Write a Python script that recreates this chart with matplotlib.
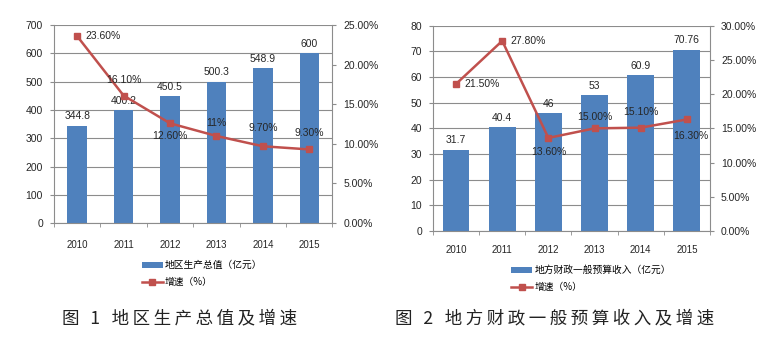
import matplotlib
matplotlib.use("Agg")
import matplotlib.pyplot as plt
from matplotlib.lines import Line2D
from matplotlib.patches import Patch
from matplotlib.ticker import FuncFormatter, MultipleLocator

plt.rcParams['font.family'] = ['Liberation Sans', 'Noto Sans CJK SC', 'DejaVu Sans']

years = ['2010', '2011', '2012', '2013', '2014', '2015']

# chart 1: regional GDP
gdp = [344.8, 400.2, 450.5, 500.3, 548.9, 600]
gdp_labels = ['344.8', '400.2', '450.5', '500.3', '548.9', '600']
gdp_growth = [23.6, 16.1, 12.6, 11.0, 9.7, 9.3]
gdp_growth_labels = ['23.60%', '16.10%', '12.60%', '11%', '9.70%', '9.30%']

# chart 2: local general budget revenue
rev = [31.7, 40.4, 46, 53, 60.9, 70.76]
rev_labels = ['31.7', '40.4', '46', '53', '60.9', '70.76']
rev_growth = [21.5, 27.8, 13.6, 15.0, 15.1, 16.3]
rev_growth_labels = ['21.50%', '27.80%', '13.60%', '15.00%', '15.10%', '16.30%']

BLUE = '#4f81bd'
RED = '#c0504d'
GRID = '#8c8c8c'
TXT = '#262626'
CJK = ['Noto Sans CJK SC', 'DejaVu Sans']

# label offsets (points) for the growth line labels
gdp_off = [(6, 0, 'left', 'center'), (0, 11, 'center', 'center'), (0, -9, 'center', 'center'),
           (0, 9, 'center', 'center'), (0, 13, 'center', 'center'), (0, 12, 'center', 'center')]
rev_off = [(6, 0, 'left', 'center'), (6, 0, 'left', 'center'), (0, -10, 'center', 'center'),
           (0, 8, 'center', 'center'), (0, 11, 'center', 'center'), (3, -12, 'center', 'center')]


def pct(v, pos):
    return '%.2f%%' % v


def draw(ax, vals, vlabels, growth, glabels, offs, ymax, ystep, pmax, bar_w, xpad):
    x = list(range(len(years)))
    ax.bar(x, vals, width=bar_w, color=BLUE, zorder=2)
    ax.set_xlim(-0.5, len(years) - 0.5)
    ax.set_ylim(0, ymax)
    ax.yaxis.set_major_locator(MultipleLocator(ystep))
    ax.grid(axis='y', color=GRID, lw=0.8, zorder=0)
    ax.set_axisbelow(True)
    ax.set_xticks(x)
    ax.set_xticklabels(years)
    ax.set_xticks([i + 0.5 for i in range(-1, len(years))], minor=True)
    ax.tick_params(axis='x', which='major', length=0, pad=xpad, labelsize=7, colors=TXT)
    ax.tick_params(axis='x', which='minor', length=3, color=GRID)
    ax.tick_params(axis='y', length=3, color=GRID, labelsize=7.5, labelcolor=TXT, pad=5)
    for s in ['top', 'right']:
        ax.spines[s].set_visible(False)
    for s in ['left', 'bottom']:
        ax.spines[s].set_color(GRID)
    for xi, v, t in zip(x, vals, vlabels):
        ax.annotate(t, (xi, v), xytext=(0, 3), textcoords='offset points',
                    ha='center', va='bottom', fontsize=7.5, color=TXT, zorder=5)

    ax2 = ax.twinx()
    ax2.plot(x, growth, color=RED, lw=1.8, marker='s', ms=5, zorder=3)
    ax2.set_ylim(0, pmax)
    ax2.yaxis.set_major_locator(MultipleLocator(5))
    ax2.yaxis.set_major_formatter(FuncFormatter(pct))
    ax2.tick_params(axis='y', length=3, color=GRID, labelsize=7.5, labelcolor=TXT, pad=5)
    for s in ['top', 'left', 'bottom']:
        ax2.spines[s].set_visible(False)
    ax2.spines['right'].set_color(GRID)
    for xi, g, t, (dx, dy, ha, va) in zip(x, growth, glabels, offs):
        ax2.annotate(t, (xi, g), xytext=(dx, dy), textcoords='offset points',
                     ha=ha, va=va, fontsize=7.5, color=TXT, zorder=6)
    return ax2


fig = plt.figure(figsize=(7.65, 3.4), dpi=100)
fig.patch.set_facecolor('white')

ax1 = fig.add_axes([0.0706, 0.344, 0.364, 0.582])
draw(ax1, gdp, gdp_labels, gdp_growth, gdp_growth_labels, gdp_off, 700, 100, 25, 0.42, 12)

ax3 = fig.add_axes([0.566, 0.321, 0.362, 0.603])
draw(ax3, rev, rev_labels, rev_growth, rev_growth_labels, rev_off, 80, 10, 30, 0.58, 10)

bar_h = Patch(facecolor=BLUE)
line_h = Line2D([], [], color=RED, lw=1.8, marker='s', ms=5)

fig.legend([bar_h, line_h], ['地区生产总值（亿元）', '增速（%）'],
           loc='upper left', bbox_to_anchor=(0.185, 0.235), frameon=False,
           prop={'family': CJK, 'size': 7}, handlelength=2.2, handleheight=0.6,
           handletextpad=0.2, labelspacing=0.7, borderpad=0, borderaxespad=0)
fig.legend([bar_h, line_h], ['地方财政一般预算收入（亿元）', '增速（%）'],
           loc='upper left', bbox_to_anchor=(0.668, 0.22), frameon=False,
           prop={'family': CJK, 'size': 7}, handlelength=2.2, handleheight=0.6,
           handletextpad=0.2, labelspacing=0.7, borderpad=0, borderaxespad=0)


def spaced(s):
    return '\u2009'.join(s)


fig.text(0.081, 0.065, spaced('图 1') + '   ' + spaced('地区生产总值及增速'),
         family=CJK, fontsize=12.6, color='#222222', ha='left', va='center')
fig.text(0.516, 0.065, spaced('图 2') + '   ' + spaced('地方财政一般预算收入及增速'),
         family=CJK, fontsize=12.6, color='#222222', ha='left', va='center')

fig.savefig('out.png', dpi=100, facecolor='white')
